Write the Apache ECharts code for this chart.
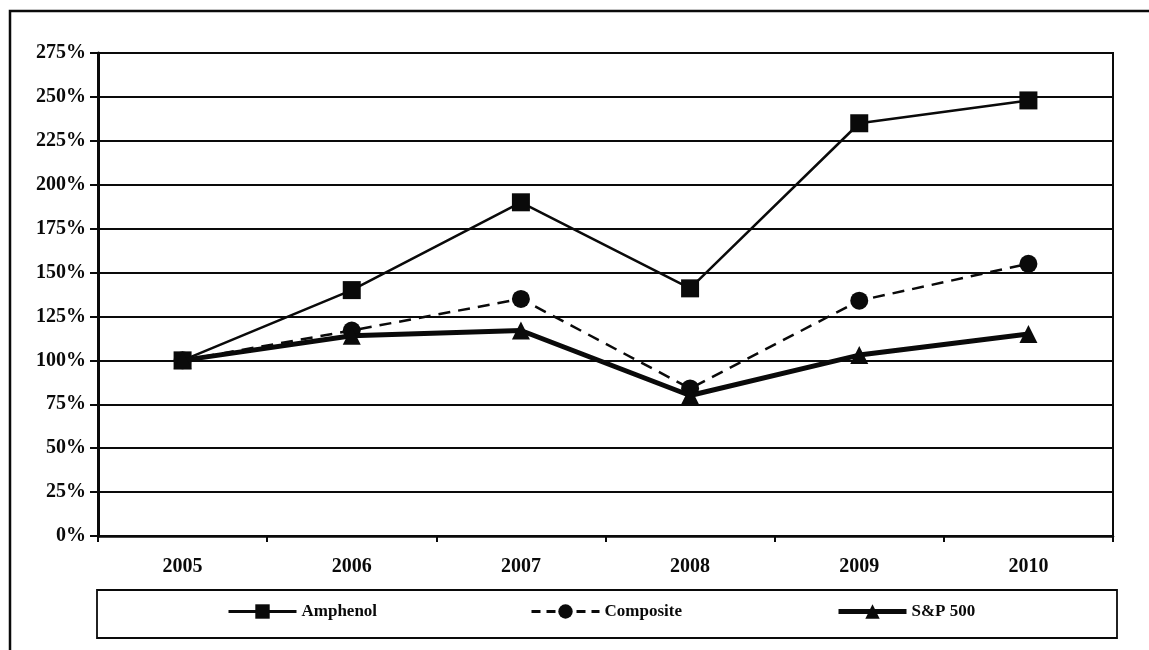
<!DOCTYPE html>
<html>
<head>
<meta charset="utf-8">
<script src="https://cdn.jsdelivr.net/npm/echarts@6/dist/echarts.min.js"></script>
<style>
  html, body { margin: 0; padding: 0; background: #fff; }
  #chart { width: 1149px; height: 650px; }
</style>
</head>
<body>
<div id="chart"></div>
<script>
// Cumulative total return, indexed to 100% in 2005
var years = ['2005', '2006', '2007', '2008', '2009', '2010'];
var amphenol = [100, 140, 190, 141, 235, 248];
var composite = [100, 117, 135, 84, 134, 155];
var sp500 = [100, 114, 117, 80, 103, 115];
var yTicks = [0, 25, 50, 75, 100, 125, 150, 175, 200, 225, 250, 275];

var FONT = '"Liberation Serif", "DejaVu Serif", serif';
var INK = '#0a0a0a';

var chart = echarts.init(document.getElementById('chart'), null, { renderer: 'canvas' });

function legendFor(name, left, lineWidth, lineType) {
  return {
    data: [name],
    left: left,
    top: 603,
    itemWidth: 68,
    itemHeight: 18,
    itemGap: 4,
    padding: 0,
    selectedMode: false,
    lineStyle: { width: lineWidth, type: lineType, color: INK },
    textStyle: { fontFamily: FONT, fontSize: 17, fontWeight: 'bold', color: INK, padding: [3, 0, 0, 0] }
  };
}

chart.setOption({
  animation: false,
  backgroundColor: '#fff',
  grid: {
    left: 98, right: 36, top: 53, bottom: 114,
    show: true, borderColor: INK, borderWidth: 2, backgroundColor: 'transparent'
  },
  legend: [
    legendFor('Amphenol', 227, 3, 'solid'),
    legendFor('Composite', 530, 3, [9, 6]),
    legendFor('S&P 500', 836, 5, 'solid')
  ],
  xAxis: {
    type: 'category',
    data: years,
    boundaryGap: true,
    axisLine: { lineStyle: { color: INK, width: 2.5 } },
    axisTick: { show: true, length: 6, inside: false, lineStyle: { color: INK, width: 2 } },
    axisLabel: { fontFamily: FONT, fontSize: 20, fontWeight: 'bold', color: INK, margin: 21 }
  },
  yAxis: {
    type: 'value',
    min: 0, max: 275, interval: 25,
    axisLine: { show: true, lineStyle: { color: INK, width: 3 } },
    axisTick: { show: true, length: 8, lineStyle: { color: INK, width: 2 } },
    axisLabel: {
      fontFamily: FONT, fontSize: 20, fontWeight: 'bold', color: INK, margin: 12,
      formatter: function (v) { return yTicks.indexOf(v) >= 0 ? v + '%' : ''; }
    },
    splitLine: { show: true, lineStyle: { color: INK, width: 1.8 } }
  },
  series: [
    {
      name: 'Amphenol', type: 'line', data: amphenol,
      symbol: 'rect', symbolSize: 18,
      lineStyle: { color: INK, width: 2.5, type: 'solid' },
      itemStyle: { color: INK }, z: 4
    },
    {
      name: 'Composite', type: 'line', data: composite,
      symbol: 'circle', symbolSize: 18,
      lineStyle: { color: INK, width: 2.5, type: [12, 8] },
      itemStyle: { color: INK }, z: 3
    },
    {
      name: 'S&P 500', type: 'line', data: sp500,
      symbol: 'triangle', symbolSize: 18,
      lineStyle: { color: INK, width: 5, type: 'solid' },
      itemStyle: { color: INK }, z: 5
    }
  ],
  graphic: [
    {
      type: 'rect', silent: true, z: 0,
      shape: { x: 10, y: 11, width: 1300, height: 800 },
      style: { fill: 'none', stroke: INK, lineWidth: 2.5 }
    },
    {
      type: 'rect', silent: true, z: 0,
      shape: { x: 97, y: 590, width: 1020, height: 48 },
      style: { fill: 'none', stroke: INK, lineWidth: 1.8 }
    }
  ]
});
</script>
</body>
</html>
